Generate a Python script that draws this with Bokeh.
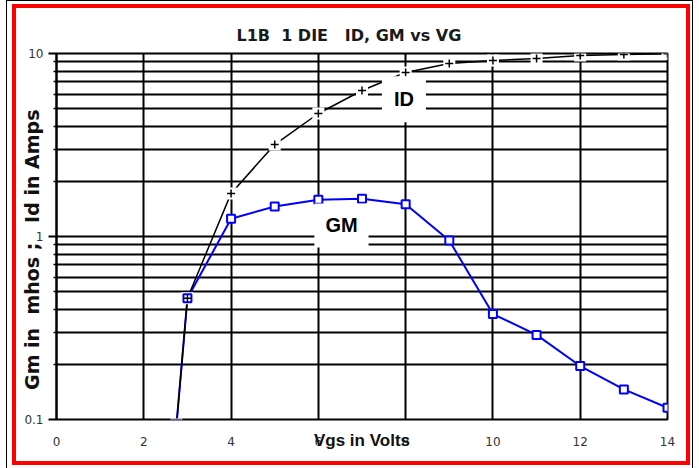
from bokeh.plotting import figure
from bokeh.models import Range1d, FixedTicker, Label, InlineStyleSheet
from bokeh.embed import file_html
from bokeh.resources import INLINE

# ---- data ----
vgs = [2.75, 3, 4, 5, 6, 7, 8, 9, 10, 11, 12, 13, 14]
id_amps = [0.094, 0.46, 1.72, 3.18, 4.70, 6.28, 7.87, 8.82, 9.16, 9.40, 9.75, 9.88, 9.96]
gm_mhos = [0.094, 0.46, 1.25, 1.46, 1.59, 1.61, 1.50, 0.95, 0.377, 0.29, 0.196, 0.146, 0.116]

x_ticks = [0, 2, 4, 6, 8, 10, 12, 14]
y_major = [0.1, 1, 10]
y_minor = [0.2, 0.3, 0.4, 0.5, 0.6, 0.7, 0.8, 0.9, 2, 3, 4, 5, 6, 7, 8, 9]
y_labels = {0.1: "0.1", 1: "1", 10: "10"}

NB = "\u00a0"
title_text = "L1B" + NB * 2 + "1 DIE" + NB * 3 + "ID, GM vs VG"
x_title = "Vgs in Volts"
y_title = "Gm in" + NB * 2 + "mhos ;" + NB * 3 + "Id in Amps" + NB * 4

p = figure(width=683, height=452, output_backend="svg", toolbar_location=None,
           x_range=Range1d(0, 14), y_range=Range1d(0.1, 10), y_axis_type="log",
           min_border_left=56, min_border_right=16, min_border_top=53, min_border_bottom=32)
p.background_fill_color = "white"
p.border_fill_color = "white"
p.outline_line_color = "black"
p.outline_line_width = 2

# title
p.title.text = title_text
p.title.align = "left"
p.title.offset = 180
p.title.standoff = 18
p.title.text_font = "DejaVu Sans"
p.title.text_font_style = "bold"
p.title.text_font_size = "16px"
p.title.text_color = "#1a1a1a"

p.xaxis.ticker = FixedTicker(ticks=x_ticks)
p.yaxis.ticker = FixedTicker(ticks=y_major, minor_ticks=y_minor)
p.yaxis.major_label_overrides = y_labels

p.xgrid.grid_line_color = "black"
p.xgrid.grid_line_width = 2
p.ygrid.grid_line_color = "black"
p.ygrid.grid_line_width = 2
p.ygrid.minor_grid_line_color = "black"
p.ygrid.minor_grid_line_width = 2

p.xaxis.axis_line_color = None
p.xaxis.major_tick_line_color = None
p.xaxis.minor_tick_line_color = None
p.xaxis.major_label_text_font = "DejaVu Sans"
p.xaxis.major_label_text_font_size = "12px"
p.xaxis.major_label_text_color = "#333333"
p.xaxis.major_label_standoff = 11
p.xaxis.axis_label = x_title
p.xaxis.axis_label_text_font = "Liberation Sans"
p.xaxis.axis_label_text_font_style = "bold"
p.xaxis.axis_label_text_font_size = "17px"
p.xaxis.axis_label_text_color = "#111111"
p.xaxis.axis_label_standoff = -18

p.yaxis.axis_line_color = "black"
p.yaxis.axis_line_width = 2
p.yaxis.major_tick_in = 0
p.yaxis.major_tick_out = 8
p.yaxis.major_tick_line_width = 2
p.yaxis.minor_tick_in = 0
p.yaxis.minor_tick_out = 3
p.yaxis.minor_tick_line_width = 1.5
p.yaxis.major_label_text_font = "DejaVu Sans"
p.yaxis.major_label_text_font_size = "12px"
p.yaxis.major_label_text_color = "#333333"
p.yaxis.major_label_standoff = 5
p.yaxis.axis_label = y_title
p.yaxis.axis_label_text_font = "DejaVu Sans"
p.yaxis.axis_label_text_font_style = "bold"
p.yaxis.axis_label_text_font_size = "19px"
p.yaxis.axis_label_text_color = "#111111"
p.yaxis.axis_label_standoff = -22

# series
p.line(vgs, gm_mhos, line_color="#0000FF", line_width=2)
p.line(vgs, id_amps, line_color="black", line_width=1.5)
p.scatter(vgs, id_amps, marker="square", size=12, fill_color="white", line_color=None)
p.scatter(vgs, gm_mhos, marker="square", size=8, fill_color="white", line_color="#0000FF", line_width=2)
p.scatter(vgs, id_amps, marker="cross", size=8, line_color="black", line_width=1.5)

# in-plot labels with white boxes
p.add_layout(Label(x=7.96, y=5.62, text="ID", text_align="center", text_baseline="middle",
                   text_font="Liberation Sans", text_font_style="bold", text_font_size="20px",
                   text_color="black", background_fill_color="white", padding=12))
p.add_layout(Label(x=6.53, y=1.15, text="GM", text_align="center", text_baseline="middle",
                   text_font="Liberation Sans", text_font_style="bold", text_font_size="20px",
                   text_color="black", background_fill_color="white", padding=11))

# page borders (red frame and thin black outer frame)
p.stylesheets = [InlineStyleSheet(css="""
:host { position: relative; overflow: visible; }
:host::before { content: ""; position: absolute; left: 6px; top: 0px; width: 687px; height: 490px;
  box-sizing: border-box; border: 1.5px solid black; pointer-events: none; z-index: 100; }
:host::after { content: ""; position: absolute; left: 12px; top: 4px; width: 678px; height: 461px;
  box-sizing: border-box; border: 4px solid #ff0000; pointer-events: none; z-index: 101; }
""")]

open("out.html", "w").write(file_html(p, INLINE))
